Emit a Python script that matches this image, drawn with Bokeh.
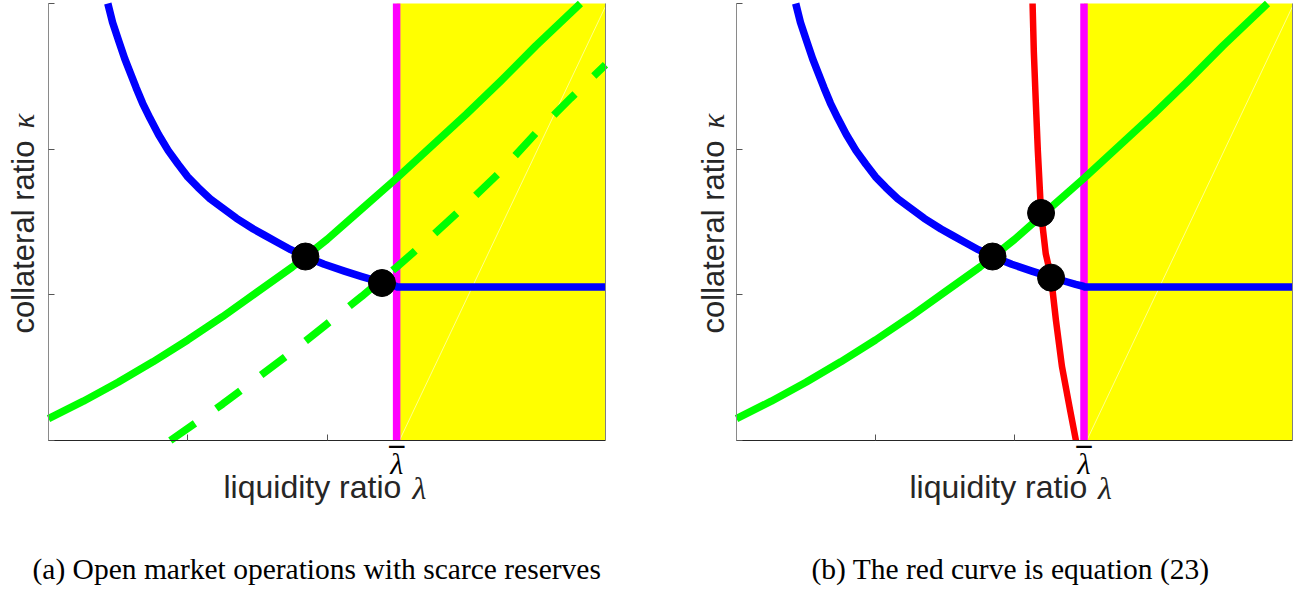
import numpy as np
from bokeh.plotting import figure
from bokeh.models import Label, LinearAxis, FixedTicker, Range1d
from bokeh.layouts import row
from bokeh.embed import file_html
from bokeh.resources import INLINE

# ---------------- data ----------------
x_max = 4.0
y_max = 3.0
lam_bar = 2.5

blue_x = [0.426, 0.46, 0.506, 0.548, 0.591, 0.63, 0.676, 0.73, 0.790, 0.86, 0.931, 1.0, 1.074,
          1.16, 1.245, 1.35, 1.471, 1.55, 1.642, 1.74, 1.843, 1.98, 2.125, 2.25, 2.381,
          2.44, 2.494, 2.506, 4.0]
blue_y = [3.0, 2.87, 2.738, 2.62, 2.515, 2.42, 2.315, 2.21, 2.101, 1.99, 1.896, 1.81, 1.737,
          1.66, 1.600, 1.525, 1.452, 1.41, 1.361, 1.31, 1.263, 1.21, 1.163, 1.125, 1.088,
          1.072, 1.059, 1.054, 1.054]

green_x = [0.0, 0.25, 0.5, 0.75, 1.0, 1.25, 1.5, 1.75, 2.0, 2.25, 2.5, 2.75, 3.0, 3.25, 3.5, 3.82]
green_y = [0.15, 0.27, 0.40, 0.54, 0.69, 0.85, 1.02, 1.19, 1.38, 1.59, 1.80, 2.02, 2.24, 2.47, 2.71, 3.0]

green_dash_x = [0.875, 1.25, 1.5, 1.75, 2.0, 2.25, 2.5, 2.75, 3.0, 3.25, 3.5, 3.75, 4.0]
green_dash_y = [0.0, 0.25, 0.43, 0.61, 0.80, 0.99, 1.19, 1.40, 1.62, 1.85, 2.11, 2.35, 2.58]

red_x = [2.130, 2.139, 2.153, 2.168, 2.191, 2.225, 2.263, 2.298, 2.341, 2.399, 2.442]
red_y = [3.0, 2.670, 2.329, 1.987, 1.562, 1.282, 1.122, 0.826, 0.511, 0.214, 0.0]

diag_x = [2.52, 4.0]
diag_y = [0.0, 2.98]

dots_a_x = [1.845, 2.395]
dots_a_y = [1.263, 1.081]
dots_b_x = [1.842, 2.191, 2.263]
dots_b_y = [1.263, 1.562, 1.118]

x_ticks = [1, 2]
y_ticks = [0, 1, 2, 3]

x_label = "liquidity ratio"
y_label = "collateral ratio"
cap_a = "(a) Open market operations with scarce reserves"
cap_b = "(b) The red curve is equation (23)"

SANS = "Liberation Sans"
SERIF = "Liberation Serif"
LABEL_COLOR = "#262626"

FIG_H = 592
PLOT_TOP_PX = 3
PLOT_BOTTOM_PX = 440
BASE_SHIFT = 0.3   # em: renderer draws alphabetic baseline this much lower


def make_panel(width, left_px, right_px, dashed, red, dx, dy, caption, cap_px, xl_px, lam_px):
    # the frame covers the whole canvas; the 0..4 x 0..3 box sits inside it
    ux = (right_px - left_px) / x_max
    uy = (PLOT_BOTTOM_PX - PLOT_TOP_PX) / y_max
    xr = Range1d(-left_px / ux, (width - left_px) / ux)
    yr = Range1d(-(FIG_H - PLOT_BOTTOM_PX) / uy, y_max + PLOT_TOP_PX / uy)
    p = figure(width=width, height=FIG_H, x_range=xr, y_range=yr,
               output_backend="svg", toolbar_location=None,
               x_axis_type=None, y_axis_type=None,
               min_border_left=0, min_border_right=0,
               min_border_top=0, min_border_bottom=0)
    p.grid.visible = False
    p.outline_line_color = None
    p.background_fill_color = "white"
    p.border_fill_color = "white"

    common = dict(major_tick_out=0, minor_tick_line_color=None,
                  major_label_standoff=0, major_label_text_font_size="0px")
    xa = LinearAxis(ticker=FixedTicker(ticks=x_ticks), fixed_location=0, bounds=(0, x_max),
                    major_label_overrides={t: "" for t in x_ticks},
                    major_tick_in=6, axis_line_color=LABEL_COLOR,
                    major_tick_line_color="#555555", axis_line_width=1.2, **common)
    p.add_layout(xa, "below")
    ya = LinearAxis(ticker=FixedTicker(ticks=y_ticks), fixed_location=0, bounds=(0, y_max),
                    major_label_overrides={t: "" for t in y_ticks},
                    major_tick_in=6, axis_line_color="#8a8a8a",
                    major_tick_line_color="#555555", **common)
    p.add_layout(ya, "left")
    ra = LinearAxis(ticker=FixedTicker(ticks=[]), fixed_location=x_max, bounds=(0, y_max),
                    major_tick_in=0, axis_line_color="#808080", **common)
    p.add_layout(ra, "right")

    p.quad(left=lam_bar, right=x_max, bottom=0, top=y_max,
           fill_color="#ffff00", line_color=None)
    p.line(diag_x, diag_y, line_color="white", line_alpha=0.55, line_width=1)
    p.line([lam_bar, lam_bar], [0, y_max], line_color="#ff00ff", line_width=7.5)
    if dashed:
        p.line(green_dash_x, green_dash_y, line_color="#00ff00", line_width=7.5,
               line_dash="30 26")
    p.line(green_x, green_y, line_color="#00ff00", line_width=7.5, line_join="round")
    p.line(blue_x, blue_y, line_color="#0000ff", line_width=7.5, line_join="round")
    if red:
        p.line(red_x, red_y, line_color="#ff0000", line_width=6.5, line_join="round")
    p.scatter(dx, dy, size=27, fill_color="black", line_color="black")

    def dxp(px):
        return (px - left_px) / ux

    def dyp(py, fs):
        # py: wanted baseline (pixels from top); fs: font size in px
        return (PLOT_BOTTOM_PX - (py - BASE_SHIFT * fs)) / uy

    p.add_layout(Label(x=dxp(xl_px), y=dyp(496, 32), text=x_label, text_font=SANS,
                       text_font_size="32px", text_color=LABEL_COLOR,
                       text_align="left", text_baseline="alphabetic"))
    p.add_layout(Label(x=dxp(lam_px), y=dyp(497, 32), text="λ", text_font=SERIF,
                       text_font_style="italic", text_font_size="32px",
                       text_color=LABEL_COLOR, text_align="left",
                       text_baseline="alphabetic"))
    # lambda-bar tick label: italic lambda with a macron bar above it
    p.add_layout(Label(x=lam_bar, y=dyp(472, 30), text="λ", text_font=SERIF,
                       text_font_style="italic", text_font_size="30px",
                       text_color="black", text_align="center",
                       text_baseline="alphabetic"))
    p.add_layout(Label(x=lam_bar, y=dyp(466, 30), text="\u00af", text_font=SERIF,
                       text_font_style="bold", text_font_size="30px",
                       text_color="black", text_align="center",
                       text_baseline="alphabetic"))
    ylab_x = (32 - BASE_SHIFT * 31 - left_px) / ux
    p.add_layout(Label(x=ylab_x, y=(PLOT_BOTTOM_PX - 333) / uy, text=y_label, text_font=SANS,
                       text_font_size="31px", text_color=LABEL_COLOR,
                       angle=np.pi / 2, text_align="left",
                       text_baseline="alphabetic"))
    p.add_layout(Label(x=ylab_x, y=(PLOT_BOTTOM_PX - 128) / uy, text="κ", text_font=SERIF,
                       text_font_style="italic", text_font_size="31px",
                       text_color=LABEL_COLOR, angle=np.pi / 2,
                       text_align="left", text_baseline="alphabetic"))
    p.add_layout(Label(x=dxp(cap_px), y=dyp(577, 29.5), text=caption, text_font=SERIF,
                       text_font_size="29.5px", text_color="black",
                       text_align="left", text_baseline="alphabetic"))
    return p


pa = make_panel(690, 48, 605, True, False, dots_a_x, dots_a_y, cap_a, 32, 223, 412)
pb = make_panel(620, 46, 602, False, True, dots_b_x, dots_b_y, cap_b, 811 - 690, 909 - 690,
                1097.5 - 690)

layout = row(pa, pb)
open("out.html", "w").write(file_html(layout, INLINE))
